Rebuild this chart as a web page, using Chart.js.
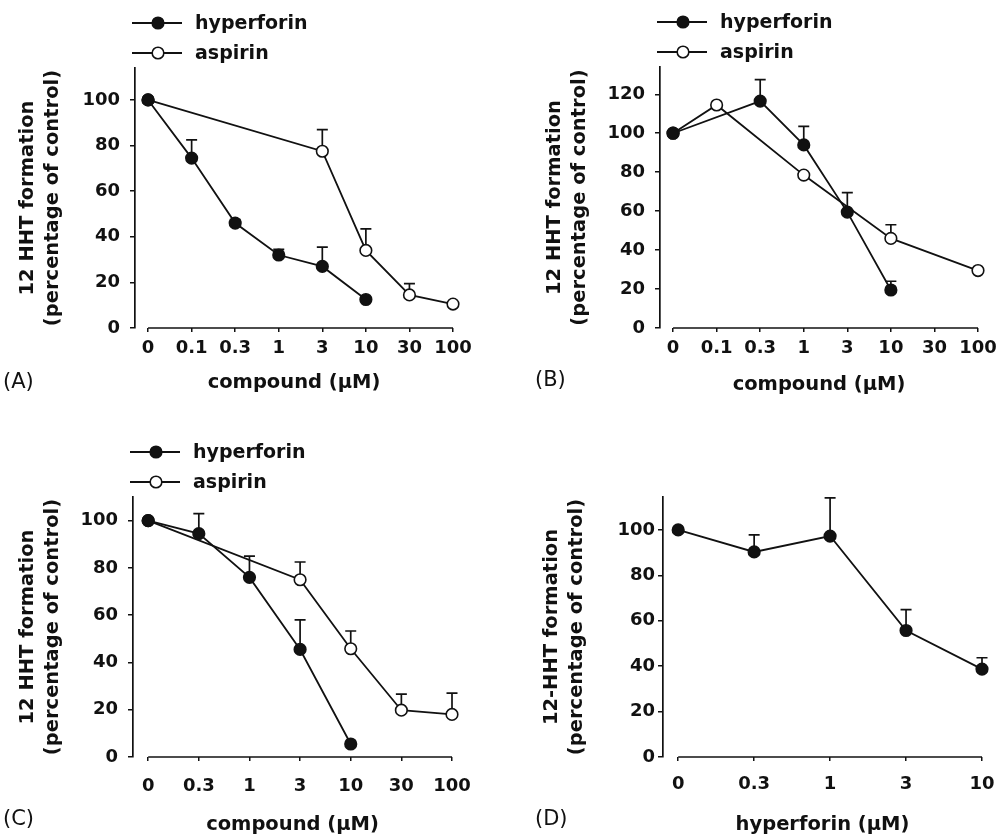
<!DOCTYPE html>
<html><head><meta charset="utf-8">
<script src="https://cdn.jsdelivr.net/npm/chart.js@4"></script>
<style>
html,body{margin:0;padding:0;background:#fff;}
#wrap{position:relative;width:999px;height:839px;overflow:hidden;}
canvas{position:absolute;}
</style></head>
<body><div id="wrap">
<canvas id="cA" width="480" height="405" style="left:0;top:0"></canvas>
<canvas id="cB" width="519" height="405" style="left:480px;top:0"></canvas>
<canvas id="cC" width="480" height="429" style="left:0;top:410px"></canvas>
<canvas id="cD" width="519" height="429" style="left:480px;top:410px"></canvas>
</div>
<script>
// ---------- data ----------
const catsAB = ['0','0.1','0.3','1','3','10','30','100'];
const catsC  = ['0','0.3','1','3','10','30','100'];
const catsD  = ['0','0.3','1','3','10'];

const hypA    = [100, 74.5, 46, 32, 27, 12.5, null, null];
const hypErrA = [0, 8, 1.5, 2.5, 8.5, 0, null, null];
const aspA    = [100, null, null, null, 77.5, 34, 14.5, 10.5];
const aspErrA = [0, null, null, null, 9.5, 9.5, 5, 0];

const hypB    = [100, null, 116.5, 94, 59.5, 19.5, null, null];
const hypErrB = [0, null, 11, 9.5, 10, 4.5, null, null];
const aspB    = [100, 114.5, null, 78.5, null, 46, null, 29.5];
const aspErrB = [0, 0, null, 0, null, 7, null, 0];

const hypC    = [100, 94.5, 76, 45.5, 5.5, null, null];
const hypErrC = [0, 8.5, 9, 12.5, 0, null, null];
const aspC    = [100, null, null, 75, 45.8, 19.8, 18];
const aspErrC = [0, null, null, 7.5, 7.5, 6.8, 9];

const hypD    = [100, 90.3, 97.3, 55.7, 38.7];
const hypErrD = [0, 7.5, 16.8, 9.2, 5];

const yTitleABC = ['12 HHT formation', '(percentage of control)'];
const yTitleD   = ['12-HHT formation', '(percentage of control)'];
const xTitleABC = 'compound (µM)';
const xTitleD   = 'hyperforin (µM)';
const labelHyp = 'hyperforin';
const labelAsp = 'aspirin';

// ---------- style ----------
const INK = '#111111';
const FONT = 'DejaVu Sans';
Chart.defaults.font.family = FONT;
Chart.defaults.color = INK;

function pts(vals, errs) {
  return vals.map((v, i) => ({x: i, y: v, e: errs[i]})).filter(p => p.y !== null);
}
function ds(label, vals, errs, filled) {
  return {
    label, data: pts(vals, errs),
    borderColor: INK, borderWidth: 1.8,
    pointRadius: 5.8, pointHoverRadius: 5.8,
    pointBackgroundColor: filled ? INK : '#ffffff',
    pointBorderColor: INK, pointBorderWidth: 1.6,
    clip: false, tension: 0
  };
}

const errPlugin = {
  id: 'errbars',
  beforeDatasetsDraw(chart) {
    const ctx = chart.ctx, ys = chart.scales.y;
    ctx.save(); ctx.strokeStyle = INK; ctx.lineWidth = 1.7;
    chart.data.datasets.forEach((d, di) => {
      const meta = chart.getDatasetMeta(di);
      d.data.forEach((p, j) => {
        if (!p.e) return;
        const el = meta.data[j];
        const yt = ys.getPixelForValue(p.y + p.e);
        ctx.beginPath();
        ctx.moveTo(el.x, el.y); ctx.lineTo(el.x, yt);
        ctx.moveTo(el.x - 5.5, yt); ctx.lineTo(el.x + 5.5, yt);
        ctx.stroke();
      });
    });
    ctx.restore();
  }
};
const xLinePlugin = {
  id: 'xline',
  beforeDatasetsDraw(chart, args, opts) {
    const xs = chart.scales.x, ctx = chart.ctx, y = chart.chartArea.bottom;
    ctx.save(); ctx.strokeStyle = INK; ctx.lineWidth = 1.7;
    ctx.beginPath();
    ctx.moveTo(xs.getPixelForValue(0), y);
    ctx.lineTo(xs.getPixelForValue(opts.n - 1), y);
    ctx.stroke(); ctx.restore();
  }
};
const legendPlugin = {
  id: 'vlegend',
  afterDraw(chart, args, opts) {
    if (!opts.show) return;
    const ctx = chart.ctx, L = chart.chartArea.left, T = chart.chartArea.top;
    ctx.save();
    chart.data.datasets.forEach((d, i) => {
      const y = T - 45 + i * 30;
      ctx.strokeStyle = INK; ctx.lineWidth = 1.8;
      ctx.beginPath(); ctx.moveTo(L - 3, y); ctx.lineTo(L + 47, y); ctx.stroke();
      ctx.beginPath(); ctx.arc(L + 23, y, 5.8, 0, Math.PI * 2);
      ctx.fillStyle = d.pointBackgroundColor; ctx.fill();
      ctx.lineWidth = 1.6; ctx.stroke();
      ctx.fillStyle = INK; ctx.font = 'bold 19px "' + FONT + '"';
      ctx.textBaseline = 'middle'; ctx.textAlign = 'left';
      ctx.fillText(d.label, L + 60, y + 1);
    });
    ctx.restore();
  }
};
const letterPlugin = {
  id: 'letter',
  afterDraw(chart, args, opts) {
    const ctx = chart.ctx;
    ctx.save(); ctx.fillStyle = INK; ctx.font = '21px "' + FONT + '"';
    ctx.textBaseline = 'middle'; ctx.textAlign = 'left';
    ctx.fillText(opts.text, opts.x, opts.y);
    ctx.restore();
  }
};

function makePanel(id, p) {
  new Chart(document.getElementById(id), {
    type: 'line',
    data: {datasets: p.datasets},
    options: {
      responsive: false, animation: false, events: [],
      layout: {padding: {left: 0, top: p.top, right: p.right, bottom: 0}},
      plugins: {
        legend: {display: false}, tooltip: {enabled: false},
        xline: {n: p.cats.length},
        vlegend: {show: p.legend},
        letter: p.letter
      },
      scales: {
        x: {
          type: 'linear', min: p.xmin, max: p.cats.length - 1,
          afterBuildTicks: s => { s.ticks = p.cats.map((c, i) => ({value: i})); },
          afterFit: s => { s.height = p.xh; s.paddingLeft = 0; s.paddingRight = 0; },
          ticks: {
            autoSkip: false, maxRotation: 0, minRotation: 0,
            padding: p.xpad, color: INK,
            font: {size: 18, weight: 'bold'},
            callback: v => p.cats[v]
          },
          grid: {display: true, drawOnChartArea: false, drawTicks: true, tickLength: 4, color: INK, lineWidth: 1.5},
          border: {display: false},
          title: {display: true, text: p.xtitle, color: INK,
                  font: {size: 19.5, weight: 'bold', lineHeight: 1.2},
                  padding: {top: 0, bottom: p.xtpad}}
        },
        y: {
          min: 0, max: p.ymax,
          afterFit: s => { s.width = p.yw; s.paddingTop = 0; s.paddingBottom = 0; },
          ticks: {stepSize: 20, includeBounds: false, padding: p.ypad, color: INK,
                  font: {size: 18, weight: 'bold'}},
          grid: {display: true, drawOnChartArea: false, drawTicks: true, tickLength: 5, color: INK, lineWidth: 1.5},
          border: {display: true, color: INK, width: 1.7},
          title: {display: true, text: p.ytitle, color: INK,
                  font: {size: 19.5, weight: 'bold', lineHeight: 1.25},
                  padding: {top: p.ytpad, bottom: 0}}
        }
      }
    },
    plugins: [errPlugin, xLinePlugin, legendPlugin, letterPlugin]
  });
}

makePanel('cA', {
  cats: catsAB, xmin: -0.3, ymax: 114, top: 68, right: 27, xh: 77, yw: 135,
  xpad: 6, xtpad: 10, ypad: 10, ytpad: 16, legend: true,
  xtitle: xTitleABC, ytitle: yTitleABC,
  letter: {text: '(A)', x: 3, y: 383},
  datasets: [ds(labelHyp, hypA, hypErrA, true), ds(labelAsp, aspA, aspErrA, false)]
});
makePanel('cB', {
  cats: catsAB, xmin: -0.3, ymax: 134, top: 67, right: 21, xh: 77, yw: 180,
  xpad: 6, xtpad: 8, ypad: 10, ytpad: 63, legend: true,
  xtitle: xTitleABC, ytitle: yTitleABC,
  letter: {text: '(B)', x: 55, y: 381},
  datasets: [ds(labelHyp, hypB, hypErrB, true), ds(labelAsp, aspB, aspErrB, false)]
});
makePanel('cC', {
  cats: catsC, xmin: -0.3, ymax: 110, top: 87, right: 28, xh: 82, yw: 133,
  xpad: 15, xtpad: 2, ypad: 10, ytpad: 16, legend: true,
  xtitle: xTitleABC, ytitle: yTitleABC,
  letter: {text: '(C)', x: 3, y: 410},
  datasets: [ds(labelHyp, hypC, hypErrC, true), ds(labelAsp, aspC, aspErrC, false)]
});
makePanel('cD', {
  cats: catsD, xmin: -0.2, ymax: 114.5, top: 87, right: 17, xh: 82, yw: 183,
  xpad: 13, xtpad: 2, ypad: 3, ytpad: 60, legend: false,
  xtitle: xTitleD, ytitle: yTitleD,
  letter: {text: '(D)', x: 55, y: 410},
  datasets: [ds(labelHyp, hypD, hypErrD, true)]
});
</script>
</body></html>
